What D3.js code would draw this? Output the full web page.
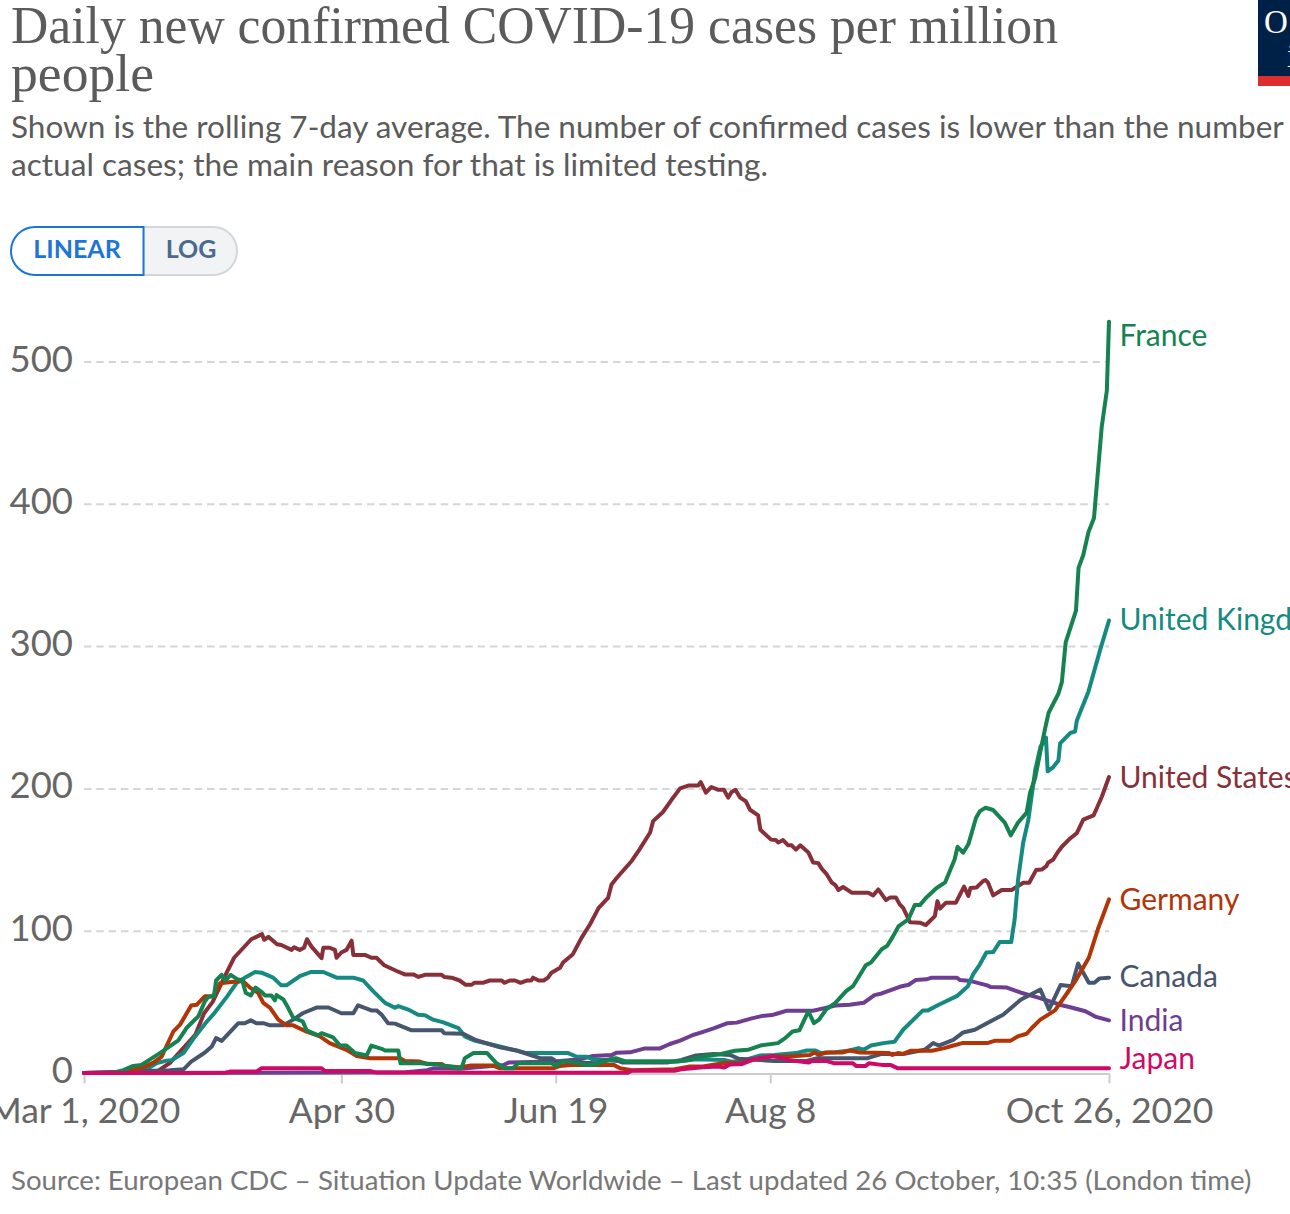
<!DOCTYPE html>
<html>
<head>
<meta charset="utf-8">
<style>
  html, body { margin: 0; padding: 0; background: #fff; overflow: hidden; }
  svg { display: block; font-family: Lato, sans-serif; }
  .grid .domain { display: none; }
  .grid line { stroke: #d6d6d6; stroke-width: 2; stroke-dasharray: 7.5 4.8; }
  .grid text { fill: #666; font-size: 36.5px; font-family: Lato, sans-serif; }
  .xaxis text { fill: #666; font-size: 35.5px; font-family: Lato, sans-serif; }
  .xaxis .domain { stroke: #cccccc; stroke-width: 2; }
  .xaxis line { stroke: #cccccc; stroke-width: 2; }
</style>
</head>
<body>
<script src="https://cdnjs.cloudflare.com/ajax/libs/d3/7.8.5/d3.min.js"></script>
<script>
// days since Mar 1 2020, cases per million
var usa = [[0,0],[17,1],[20,7],[23,17],[26,27],[28,42],[30,50],[33,69],[35,81],[37,87.5],[39,94],[41.5,97.6],[42,93.6],[43,95.7],[45,90.5],[46,90],[48.4,86.5],[49,88.4],[50.3,86.5],[51.3,88],[52,94],[53,89],[55.4,80.7],[55.8,88],[57.3,88],[58.5,86.5],[58.9,81],[60,84.7],[61.2,86.5],[62.4,93],[62.8,83],[65.5,83],[67,81],[68.2,81],[70,75.7],[72.9,71.7],[74.8,69.3],[76.8,69.3],[78,67.5],[79.5,69],[83.4,69],[84,67.5],[85.7,67],[87.6,65],[89,62],[90.4,62],[91,63.4],[93,63.4],[94.6,65],[97.4,65],[98,63.4],[99.3,65],[100.5,65],[101.8,63.4],[103.2,65],[104.3,65],[104.7,67],[106,65],[107.2,65],[108.2,67],[109,70.5],[111,74],[111.7,77.6],[114,83.5],[116,95],[118,104.5],[120,116],[122.2,123],[123,132.5],[124.2,137],[127.7,149],[129.5,157],[132,169],[132.7,177],[135,183.4],[137,192],[139,200],[140.9,202],[143.2,202],[143.8,204.5],[145,197],[146.3,201],[147.9,199],[149.2,199],[150.2,193.5],[151,197.5],[151.9,199],[153,193.5],[154.3,191],[155.3,185],[157.2,181],[157.7,171],[160.2,164],[161.3,163.7],[161.9,162],[163,163.7],[164.2,160],[165,160],[166,157],[167,160],[168.9,155],[170,148],[171.2,147.5],[172,143.6],[173.1,140],[174.3,134],[175.2,132],[175.9,128.6],[177,130.7],[179,126.7],[182.9,126.7],[184,124.8],[185.2,129],[187,121.5],[188,123.4],[189.3,123.4],[190.2,118.5],[191,116],[192.6,106],[194.9,105.6],[196.3,104],[198.4,110.3],[199,120.8],[199.6,115.5],[201,119.7],[203.3,119.7],[205.2,131],[206.2,124.4],[206.7,130],[208.1,130.4],[209.7,135],[210.2,135.6],[210.8,133.7],[212,124.8],[214,128.6],[216.3,128.6],[217.8,131.4],[219,133.7],[220.4,133.7],[222,142.6],[223.3,143],[224.4,145.4],[224.8,147.8],[226,150],[227,155],[228,159],[230,165],[231.5,168.6],[233,178],[235.4,181],[237.3,194],[239,208]];

var france = [[0,0],[6.8,0.2],[9.2,2],[11.5,5],[13.4,5.7],[17.7,14],[22,23],[23.9,31.6],[26.7,40],[28.2,50.5],[29,53.5],[30.3,54],[30.8,65],[32.1,69],[33,65],[34.2,69],[35.7,66],[36.9,65],[37.7,56.4],[38.9,54.5],[40,60],[41.4,57],[42.2,54.5],[43.7,54.5],[44.5,51],[44.9,54.7],[46.5,51.7],[47.6,45.8],[48.8,38.7],[51,36.3],[51.9,30],[54.6,26.4],[55.4,28],[58.1,25],[59.7,19.3],[61.2,19.3],[63.2,14],[65.9,12.3],[67,19.3],[69.4,17],[70.2,15.8],[73.3,15.8],[73.8,6.8],[78.3,6.8],[81.4,6.4],[84.5,5],[88,3.3],[88.8,10.4],[90.8,14],[94,14],[96.2,6.8],[98.1,3.3],[100,3.3],[101.2,6.8],[109,6.8],[110.2,5],[111.3,8],[113.5,8],[117,5.7],[119,6],[124,10.4],[126.4,8],[135,8],[137.7,8],[141,9.2],[144.3,11.6],[148.5,13.4],[151.8,15.6],[154.8,16.3],[157.7,19.3],[161.8,21],[163.5,24.5],[165.2,29.2],[166.8,30],[168.9,43.4],[170.2,35],[171.4,37.5],[173,44.6],[175.2,49.3],[177.7,57.5],[179.3,61],[182.3,75.7],[183.5,77.6],[186,87],[187.3,89.4],[188.5,95.3],[189.9,103],[192.2,108],[193.7,118],[194.9,118],[196.3,123],[198.8,130],[200.8,134],[203,150],[203.7,159],[205,154.8],[206.2,160.7],[208,179.4],[208.9,184],[210.2,186.4],[212,184.8],[214.7,176],[216.1,167],[217.8,176],[219.8,183],[220.6,197],[221.8,207.5],[223,226],[224.1,242],[224.9,253],[227.2,266.5],[228,274.5],[228.9,302.7],[231.3,325],[231.9,355],[233,364],[234.2,380],[235.5,390],[237.3,454],[238.5,479.6],[239,528]];

var uk = [[0,0],[11.5,0.5],[14.6,2.6],[17,7],[19.3,8.7],[20.4,9],[23.2,14],[25.9,25.7],[28.6,36],[30.1,41],[33.3,53.5],[35.6,63.4],[37.9,67.7],[39.9,71],[41.4,70.5],[44.1,67],[46,61.6],[47.2,61.6],[50.3,68],[53,71],[55.8,71],[58.9,67],[62.8,67],[65.1,65],[67.4,57.5],[70.2,49.3],[72.5,45.8],[73.3,47],[75.6,44.6],[77.9,41],[79.5,40.6],[81.4,37.5],[83.8,35.6],[87.3,31.6],[88.8,25.7],[90.8,23],[97,18.6],[103.2,14],[112.9,14],[114.8,11.6],[117.2,11.5],[118.5,9.7],[121.8,9],[126,8],[138.5,8],[142.7,9.7],[149.3,9.2],[151,8],[154,9],[157.7,12.3],[161,12.7],[166,14],[168.5,15.8],[170.6,15.8],[171.8,14],[175.2,14.6],[178.5,15.8],[180.6,17.5],[181.8,16.3],[183.5,19.3],[186.4,21],[189,22],[191,30.4],[195.6,44],[196.8,44],[199.3,48],[203.5,54],[206.1,61],[207.3,69.3],[208.9,76.4],[210.4,84.7],[212,85],[213.5,92],[216.2,92],[217,108],[217.8,136],[219,162],[220.2,178],[221.8,212.9],[223,229],[224.3,235.7],[224.7,212],[226,215],[227.2,219.6],[227.6,231.6],[230,239],[231.1,240],[231.5,247.7],[234.2,268],[236.9,297],[239,318]];

var canada = [[0,0],[20,2],[23.2,2.6],[25,8],[28.2,14.4],[29.8,18.6],[30.8,24.5],[32.1,22.6],[36,35],[37.5,35],[38.9,37],[40.2,35],[41.8,35],[43.4,33.5],[46.5,33.5],[48.8,37.5],[51,42],[54.2,46],[57,46],[60,42],[62.8,42],[63.9,47.6],[67,44],[68.2,44],[69.4,41],[70.9,35],[72.5,34.7],[76.4,30],[83.4,30],[84,28],[88.4,27.6],[91.5,23],[97,18],[100.9,15.8],[106.3,10.4],[109,10.4],[110.2,8],[119.3,6.8],[121.8,9.2],[123.5,10],[125.6,7.3],[136,7.3],[139.3,9.2],[142.7,12.3],[146.8,13.4],[150.6,12.7],[152.7,10],[161,8.5],[168.5,8.5],[171,10.4],[182.7,10.4],[186,13.4],[191,13.4],[196,16.3],[198,21],[199.3,19.3],[202.7,23.3],[205,28.5],[207.7,30.4],[214.3,41],[218.5,51.7],[223,58.7],[225,44.6],[227.7,61.8],[230.3,61],[231.8,77],[234.3,63.4],[235.6,63.4],[236.8,66.5],[239,67]];

var germany = [[0,0],[6.8,0],[10.7,2],[13.8,4],[16.2,7.3],[18.1,11.5],[20.8,29],[22.4,34],[25,47.4],[26.3,48],[28.2,54],[30.1,54],[31.7,63],[34.4,64],[37.1,64.6],[38.7,60],[40.6,56.4],[41.8,49.3],[43.4,45.8],[45.3,37.5],[47.2,33.5],[48.8,33.5],[51.9,29],[55,25.7],[57.3,21],[61.2,16.3],[63.6,12],[66.7,10.4],[73.7,10.4],[74.8,8.5],[78.3,8],[79.9,6.4],[83.4,6.4],[84,5],[87.6,4],[90,5.2],[95.4,5.2],[97,3.3],[109.4,3.3],[111,5],[113.5,5.7],[123.5,5.7],[125,3.3],[127.7,2],[137.7,2.6],[141,4.5],[144.3,4.5],[149.3,7],[153.5,6.8],[156,9.2],[160.2,11.6],[164.3,11.6],[169.3,12.7],[170.3,14.4],[171.4,12.7],[173,14.4],[176.8,14.4],[178.5,15.8],[181,14.4],[187.7,14],[188.5,12.7],[189.8,14],[191,13.4],[192.7,15.6],[197.7,15.6],[200.6,17.5],[202.3,19],[204.8,21],[210.6,21],[212.3,22.6],[216,22.6],[217.7,25.7],[219.8,27.6],[221,31.6],[223,37.5],[226.4,44],[229.3,56.4],[231.4,65.8],[234.3,81],[236.4,101],[239,122]];

var india = [[0,0],[60,0.3],[75,0.5],[80,2],[81.4,3.3],[87.7,3],[97.8,5.6],[99,7.3],[109.8,8],[115.6,9.6],[118.7,12],[123,12.6],[124.2,14.3],[127.3,14.5],[130.8,17.3],[134.3,17.3],[136.6,20.4],[139,22.7],[142,26.7],[144,28.6],[146.8,31.4],[149.9,34.9],[152.2,35.4],[155.7,38.4],[158,40],[160.4,40.7],[161.9,42],[163.9,43.8],[170,43.8],[172.4,45.4],[175.2,47.4],[178.5,48],[181.8,49.3],[184.3,54.7],[186,55.9],[190.2,60.6],[192.3,62],[193.9,65.3],[196.4,65.8],[197.7,67],[203.5,67],[204.3,65.3],[206.8,64.6],[210.6,61.6],[211.4,60.4],[215.2,60],[218.5,56.4],[222.7,52.8],[228,47.6],[230.2,46],[233.5,43.4],[236,39.4],[239,37]];

var japan = [[0,0],[33,0.2],[34,1],[40.2,1],[41.4,3.3],[55.4,3.3],[56.2,1.4],[66.7,1.4],[68.2,0.3],[126.8,0.2],[127.7,1.6],[137.7,1.6],[139.3,2.6],[144.3,4],[148,4.5],[149.3,3.8],[150.6,6],[153.5,6.4],[156,9.7],[160.6,12],[164.3,9.2],[168.9,7.3],[169.8,8.5],[173,8.5],[175,6.8],[179.3,6.8],[180,5],[182.3,5],[183,6.8],[186,5.7],[188,5.7],[189.8,3.3],[239,3.3]];

var seriesNames = ["India", "United States", "United Kingdom", "Canada", "Germany", "France", "Japan"];
var seriesValues = [india, usa, uk, canada, germany, france, japan];
var seriesColors = ["#6d3e91", "#883039", "#158a81", "#46566f", "#b13507", "#14834f", "#cf0a66"];
// where each label sits, in chart values (labels are nudged apart, not at line ends)
var labelValues = [37, 208, 319, 68, 122, 518.6, 10.5];

var tickDays = [0, 60, 110, 160, 239];
var tickLabels = ["Mar 1, 2020", "Apr 30", "Jun 19", "Aug 8", "Oct 26, 2020"];
var yTicks = [0, 100, 200, 300, 400, 500];

var w = 1290, h = 1214;
var x = d3.scaleLinear().domain([0, 239]).range([84, 1109]);
var y = d3.scaleLinear().domain([0, 500]).range([1073, 361.5]);

var svg = d3.select("body").append("svg").attr("width", w).attr("height", h);

// header
svg.append("text").text("Daily new confirmed COVID-19 cases per million")
    .attr("x", 11).attr("y", 43)
    .attr("textLength", 1047).attr("lengthAdjust", "spacingAndGlyphs")
    .style("font-family", "'Liberation Serif', serif").style("font-size", "52px").attr("fill", "#5b5b5b");
svg.append("text").text("people")
    .attr("x", 11).attr("y", 90.5)
    .attr("textLength", 143).attr("lengthAdjust", "spacingAndGlyphs")
    .style("font-family", "'Liberation Serif', serif").style("font-size", "52px").attr("fill", "#5b5b5b");
svg.append("text").text("Shown is the rolling 7-day average. The number of confirmed cases is lower than the number of")
    .attr("x", 11).attr("y", 138).style("font-size", "31.5px").attr("fill", "#5b5b5b");
svg.append("text").text("actual cases; the main reason for that is limited testing.")
    .attr("x", 11).attr("y", 176).style("font-size", "31.6px").attr("fill", "#5b5b5b");

// logo, mostly cut off by the window
svg.append("rect").attr("x", 1258).attr("y", 0).attr("width", 32).attr("height", 86).attr("fill", "#002147");
svg.append("rect").attr("x", 1258).attr("y", 76).attr("width", 32).attr("height", 10).attr("fill", "#dc2e2e");
svg.append("text").text("Our").attr("x", 1264).attr("y", 33).style("letter-spacing", "3px")
    .style("font-family", "'Liberation Serif', serif").style("font-size", "33px").attr("fill", "#fff");
svg.append("text").text("in Data").attr("x", 1287).attr("y", 67)
    .style("font-family", "'Liberation Serif', serif").style("font-size", "33px").attr("fill", "#fff");

// linear / log toggle
svg.append("path").attr("d", "M143.5,275 H213.5 a23.5,24 0 0 0 0,-48 H143.5 Z")
    .attr("fill", "#f2f3f4").attr("stroke", "#d4d7da").attr("stroke-width", 2);
svg.append("path").attr("d", "M143.5,227 H35 a24,24 0 0 0 0,48 H143.5 Z")
    .attr("fill", "#fff").attr("stroke", "#1d76d6").attr("stroke-width", 2);
svg.append("text").text("LINEAR").attr("x", 77).attr("y", 258).attr("text-anchor", "middle")
    .style("font-size", "25px").style("font-weight", 700).attr("fill", "#1d76d6");
svg.append("text").text("LOG").attr("x", 191).attr("y", 258).attr("text-anchor", "middle")
    .style("font-size", "25px").style("font-weight", 700).attr("fill", "#4a6a90");

// axes
var yAxis = d3.axisLeft(y).tickValues(yTicks).tickSize(-(x(239) - x(0))).tickPadding(11);
var gy = svg.append("g").attr("class", "grid").attr("transform", "translate(84,0)").call(yAxis);
gy.selectAll(".tick").filter(function(d) { return d === 0; }).select("line").remove();
gy.selectAll("text").attr("dy", "0.26em");

var xAxis = d3.axisBottom(x).tickValues(tickDays)
    .tickFormat(function(d, i) { return tickLabels[i]; })
    .tickSize(10).tickSizeOuter(0).tickPadding(14);
svg.append("g").attr("class", "xaxis").attr("transform", "translate(0,1073.5)").call(xAxis);

// lines
var line = d3.line()
    .x(function(d) { return x(d[0]); })
    .y(function(d) { return y(d[1]); });

seriesValues.forEach(function(values, i) {
    svg.append("path").datum(values)
        .attr("d", line)
        .attr("fill", "none")
        .attr("stroke", seriesColors[i])
        .attr("stroke-width", 4)
        .attr("stroke-linejoin", "round")
        .attr("stroke-linecap", "round");

    svg.append("text").text(seriesNames[i])
        .attr("x", 1119.5)
        .attr("y", y(labelValues[i]))
        .attr("dy", "0.35em")
        .style("font-size", "30px")
        .attr("fill", seriesColors[i]);
});

svg.append("text").text("Source: European CDC – Situation Update Worldwide – Last updated 26 October, 10:35 (London time)")
    .attr("x", 11).attr("y", 1190).style("font-size", "27.6px").attr("fill", "#777");
</script>
</body>
</html>
